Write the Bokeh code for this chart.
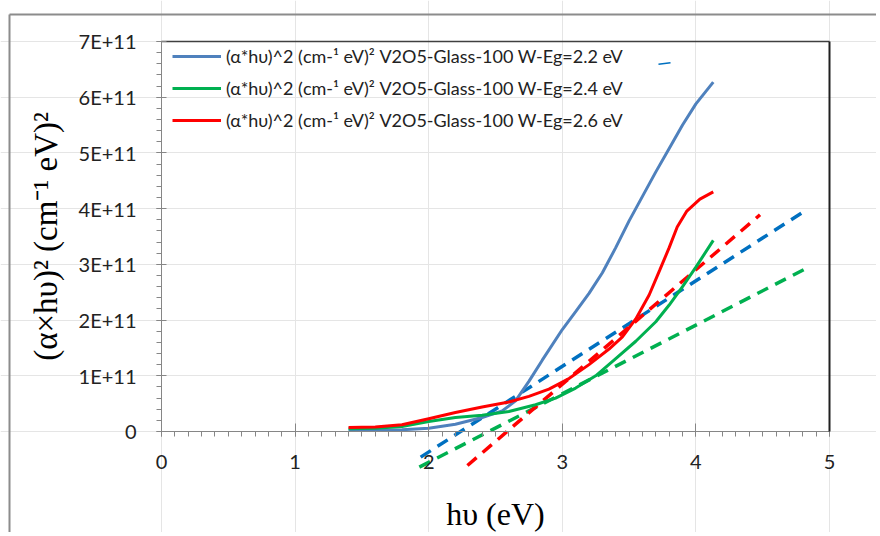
from bokeh.plotting import figure
from bokeh.models import (Range1d, LinearAxis, FixedTicker, SingleIntervalTicker,
                          CustomJSTickFormatter, Legend, LegendItem)
from bokeh.embed import file_html
from bokeh.resources import INLINE

# ---- data (hv in eV, (alpha*hv)^2 in (cm^-1 eV)^2) ----
blue_x = [1.40, 1.6, 1.8, 2.0, 2.2, 2.4, 2.55, 2.65, 2.75, 2.85, 3.0, 3.1, 3.2, 3.3,
          3.4, 3.5, 3.6, 3.7, 3.8, 3.9, 4.0, 4.13]
blue_y = [0.02e11, 0.02e11, 0.03e11, 0.06e11, 0.13e11, 0.25e11, 0.37e11, 0.55e11, 0.90e11,
          1.28e11, 1.83e11, 2.15e11, 2.48e11, 2.85e11, 3.30e11, 3.78e11, 4.22e11, 4.66e11,
          5.08e11, 5.50e11, 5.88e11, 6.27e11]

green_x = [1.40, 1.6, 1.8, 2.0, 2.2, 2.4, 2.6, 2.8, 2.95, 3.1, 3.25, 3.4, 3.55, 3.7,
           3.8, 3.9, 4.0, 4.13]
green_y = [0.05e11, 0.06e11, 0.09e11, 0.18e11, 0.25e11, 0.29e11, 0.36e11, 0.48e11, 0.60e11,
           0.78e11, 1.00e11, 1.31e11, 1.62e11, 1.97e11, 2.27e11, 2.60e11, 2.95e11, 3.43e11]

red_x = [1.40, 1.6, 1.8, 2.0, 2.2, 2.4, 2.6, 2.75, 2.9, 3.05, 3.2, 3.35, 3.45, 3.55,
         3.65, 3.73, 3.8, 3.86, 3.93, 4.03, 4.13]
red_y = [0.07e11, 0.08e11, 0.12e11, 0.23e11, 0.34e11, 0.44e11, 0.53e11, 0.63e11, 0.76e11,
         0.95e11, 1.20e11, 1.48e11, 1.70e11, 2.02e11, 2.45e11, 2.90e11, 3.30e11, 3.67e11,
         3.95e11, 4.17e11, 4.30e11]

# linear (Tauc) fits, drawn as dashed lines
blue_fit_x = [1.94, 4.83]
blue_fit_y = [-0.46e11, 3.98e11]
green_fit_x = [1.93, 4.82]
green_fit_y = [-0.64e11, 2.92e11]
red_fit_x = [2.29, 4.48]
red_fit_y = [-0.61e11, 3.89e11]

# small stray blue stroke in the original
stray_x = [3.72, 3.81]
stray_y = [6.59e11, 6.62e11]

legend_labels = [
    "(α*hυ)^2 (cm-¹ eV)² V2O5-Glass-100 W-Eg=2.2 eV",
    "(α*hυ)^2 (cm-¹ eV)² V2O5-Glass-100 W-Eg=2.4 eV",
    "(α*hυ)^2 (cm-¹ eV)² V2O5-Glass-100 W-Eg=2.6 eV",
]
x_label = "hυ (eV)"
y_label = "(α×hυ)² (cm⁻¹ eV)²"
x_axis_min, x_axis_max = 0, 5
y_axis_min, y_axis_max = 0, 7e11

# ---- styling / layout constants ----
BLUE = "#4F81BD"
BLUE_FIT = "#0070C0"
GREEN = "#00B050"
RED = "#FF0000"
AXIS_GRAY = "#868686"
TICK_FONT = "Lato"
SERIF = "Liberation Serif"

W, H = 876, 532
# the whole canvas is the frame; axes are placed at fixed data locations
X0, X1 = -1.2051, 5.3518
Y0, Y1 = -1.8129e11, 7.7359e11
OUTER_LEFT = -1.1377
OUTER_TOP = 7.4846e11

p = figure(width=W, height=H, output_backend="svg", toolbar_location=None,
           x_range=Range1d(X0, X1), y_range=Range1d(Y0, Y1),
           x_axis_location=None, y_axis_location=None,
           min_border=0, min_border_left=0, min_border_right=0,
           min_border_top=0, min_border_bottom=0)
p.outline_line_color = None
p.background_fill_color = "white"
p.border_fill_color = "white"

yfmt = CustomJSTickFormatter(code="""
if (tick == 0) { return "0"; }
const e = Math.floor(Math.log10(Math.abs(tick)) + 1e-9);
const m = Math.round(tick / Math.pow(10, e));
return m + "E+" + e;
""")

xa = LinearAxis(fixed_location=0, bounds=(x_axis_min, x_axis_max),
                ticker=SingleIntervalTicker(interval=1, num_minor_ticks=10),
                axis_line_color=AXIS_GRAY, major_tick_line_color=AXIS_GRAY,
                minor_tick_line_color=AXIS_GRAY, major_tick_in=8, major_tick_out=5,
                minor_tick_in=0, minor_tick_out=5,
                major_label_text_font=TICK_FONT, major_label_text_font_size="20px",
                major_label_text_color="#222222", major_label_standoff=19,
                axis_label=x_label, axis_label_text_font=SERIF,
                axis_label_text_font_style="normal", axis_label_text_font_size="32px",
                axis_label_text_color="#000000", axis_label_standoff=23)
p.add_layout(xa, "below")

ya = LinearAxis(fixed_location=0, bounds=(y_axis_min, y_axis_max),
                ticker=SingleIntervalTicker(interval=1e11, num_minor_ticks=5),
                formatter=yfmt,
                axis_line_color=AXIS_GRAY, major_tick_line_color=AXIS_GRAY,
                minor_tick_line_color=AXIS_GRAY, major_tick_in=5, major_tick_out=5,
                minor_tick_in=0, minor_tick_out=5,
                major_label_text_font=TICK_FONT, major_label_text_font_size="20px",
                major_label_text_color="#222222", major_label_standoff=20,
                axis_label=y_label, axis_label_text_font=SERIF,
                axis_label_text_font_style="normal", axis_label_text_font_size="33px",
                axis_label_text_color="#000000", axis_label_standoff=12)
p.add_layout(ya, "left")

# plot-area border (top and right)
top_ax = LinearAxis(fixed_location=y_axis_max, bounds=(x_axis_min, x_axis_max),
                    ticker=FixedTicker(ticks=[]), axis_line_color="#404040",
                    axis_line_width=1.5, major_tick_line_color=None,
                    minor_tick_line_color=None, major_label_text_font_size="0px")
right_ax = LinearAxis(fixed_location=x_axis_max, bounds=(y_axis_min, y_axis_max),
                      ticker=FixedTicker(ticks=[]), axis_line_color="#202020",
                      axis_line_width=2, major_tick_line_color=None,
                      minor_tick_line_color=None, major_label_text_font_size="0px")
p.add_layout(top_ax, "above")
p.add_layout(right_ax, "right")

# chart-area border (left and top, gray)
outer_top = LinearAxis(fixed_location=OUTER_TOP, bounds=(OUTER_LEFT, X1),
                       ticker=FixedTicker(ticks=[]),
                       axis_line_color="#8c8c8c", axis_line_width=2,
                       major_tick_line_color=None, minor_tick_line_color=None,
                       major_label_text_font_size="0px")
outer_left = LinearAxis(fixed_location=OUTER_LEFT, bounds=(Y0, OUTER_TOP),
                        ticker=FixedTicker(ticks=[]),
                        axis_line_color="#8c8c8c", axis_line_width=2,
                        major_tick_line_color=None, minor_tick_line_color=None,
                        major_label_text_font_size="0px")
p.add_layout(outer_top, "above")
p.add_layout(outer_left, "left")

# dashed fit lines
p.line(blue_fit_x, blue_fit_y, line_color=BLUE_FIT, line_width=3.5, line_dash="12 8")
p.line(green_fit_x, green_fit_y, line_color=GREEN, line_width=3.5, line_dash="12 8")
p.line(red_fit_x, red_fit_y, line_color=RED, line_width=3.5, line_dash="12 8")

# data curves
r_blue = p.line(blue_x, blue_y, line_color=BLUE, line_width=3)
r_green = p.line(green_x, green_y, line_color=GREEN, line_width=3)
r_red = p.line(red_x, red_y, line_color=RED, line_width=3)
p.line(stray_x, stray_y, line_color=BLUE_FIT, line_width=1.5)

legend = Legend(items=[LegendItem(label=legend_labels[0], renderers=[r_blue]),
                       LegendItem(label=legend_labels[1], renderers=[r_green]),
                       LegendItem(label=legend_labels[2], renderers=[r_red])],
                location=(172, 401), margin=0, padding=8, spacing=10,
                glyph_width=49, glyph_height=20, label_standoff=5,
                label_text_font=TICK_FONT, label_text_font_size="18px",
                label_text_color="#222222", border_line_color=None,
                background_fill_alpha=0)
p.add_layout(legend)

open("out.html", "w").write(file_html(p, INLINE))
